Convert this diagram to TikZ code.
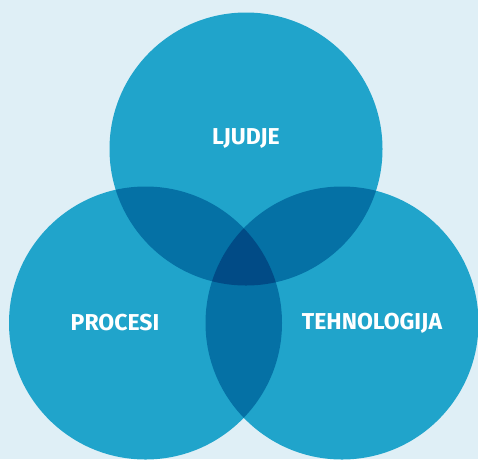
\documentclass[tikz,border=0pt]{standalone}
\usepackage{fontspec}
\setmainfont{Fira Sans}
\definecolor{bgblue}{HTML}{DFEFF6}
\definecolor{ringblue}{HTML}{20A4CB}
\definecolor{pairblue}{HTML}{0571A5}
\definecolor{coreblue}{HTML}{014B86}
\begin{document}
\begin{tikzpicture}[x=1pt,y=-1pt,
  label/.style={text=white,font=\fontsize{23}{26}\selectfont\bfseries,inner sep=0pt}]
  \fill[bgblue] (0,0) rectangle (478,459);
  \useasboundingbox (0,0) rectangle (478,459);
  % the three sets
  \def\rad{136.5}
  \coordinate (top) at (246,149);
  \coordinate (left) at (145.5,323);
  \coordinate (right) at (342,323);
  \fill[ringblue] (top) circle (\rad);
  \fill[ringblue] (left) circle (\rad);
  \fill[ringblue] (right) circle (\rad);
  % pairwise overlaps
  \begin{scope}
    \clip (top) circle (\rad);
    \fill[pairblue] (left) circle (\rad);
    \fill[pairblue] (right) circle (\rad);
  \end{scope}
  \begin{scope}
    \clip (left) circle (\rad);
    \fill[pairblue] (right) circle (\rad);
  \end{scope}
  % common core
  \begin{scope}
    \clip (top) circle (\rad);
    \clip (left) circle (\rad);
    \fill[coreblue] (right) circle (\rad);
  \end{scope}
  \node[label] (ljudje) at (246,138) {LJUDJE};
  \node[label] (procesi) at (115,323) {PROCESI};
  \node[label] (tehno) at (372,323) {TEHNOLOGIJA};
\end{tikzpicture}
\end{document}
